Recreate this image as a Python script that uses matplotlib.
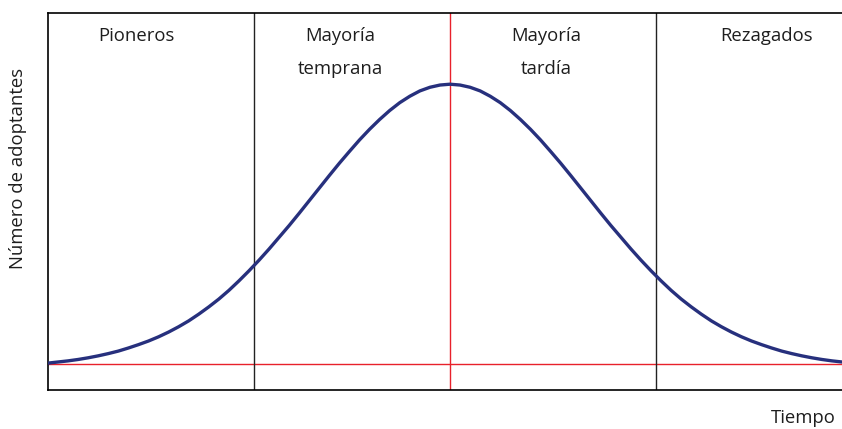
import numpy as np
import matplotlib
matplotlib.use("Agg")
import matplotlib.pyplot as plt

plt.rcParams['font.family'] = ['Open Sans', 'DejaVu Sans']

# tiempo (unidades arbitrarias, media en 0)
tiempo = [round(-4.0 + 0.1 * i, 1) for i in range(80)]
# numero de adoptantes (pico = 100)
adoptantes = [0.3, 0.7, 1.1, 1.6, 2.2, 2.9, 3.7, 4.6, 5.7, 6.9,
              8.2, 9.7, 11.4, 13.3, 15.4, 17.8, 20.4, 23.2, 26.3, 29.7,
              33.3, 37.1, 41.1, 45.3, 49.5, 53.9, 58.4, 62.9, 67.4, 71.8,
              76.0, 80.1, 83.9, 87.4, 90.6, 93.4, 95.7, 97.6, 98.9, 99.7,
              100.0,
              99.7, 98.9, 97.6, 95.7, 93.4, 90.6, 87.4, 83.9, 80.1, 76.0,
              71.8, 67.4, 62.9, 58.4, 53.9, 49.5, 45.3, 41.1, 37.1, 33.3,
              29.7, 26.3, 23.2, 20.4, 17.8, 15.4, 13.3, 11.4, 9.7, 8.2,
              6.9, 5.7, 4.6, 3.7, 2.9, 2.2, 1.6, 1.1, 0.7]

cortes = [-1.95, 2.05]
media = 0.0
grupos = ["Pioneros", "Mayoría\ntemprana", "Mayoría\ntardía", "Rezagados"]
grupos_x = [-3.12, -1.09, 0.96, 3.15]

fig = plt.figure(figsize=(8.42, 4.29), dpi=100)
ax = fig.add_axes([0.057, 0.091, 0.943, 0.879])

ax.axhline(0, color='#e8212b', lw=1.0, zorder=1)
ax.axvline(media, color='#e8212b', lw=1.0, zorder=1)
for c in cortes:
    ax.axvline(c, color='#222222', lw=1.0, zorder=1)

ax.plot(tiempo, adoptantes, color='#27307d', lw=2.4, zorder=3,
        solid_capstyle='round')

for g, gx in zip(grupos, grupos_x):
    ax.text(gx, 120.3, g, ha='center', va='top', fontsize=13.3,
            color='#1e1e1e', linespacing=2.05)

ax.set_xlim(-4.0, 3.9)
ax.set_ylim(-9.3, 125.5)
ax.set_xticks([])
ax.set_yticks([])
ax.spines['right'].set_visible(False)
for s in ['left', 'top', 'bottom']:
    ax.spines[s].set_linewidth(1.2)

fig.text(0.021, 0.607, "Número de adoptantes", rotation=90, ha='center',
         va='center', fontsize=13.3, color='#1e1e1e')
fig.text(0.993, 0.014, "Tiempo", ha='right', va='baseline', fontsize=13.3,
         color='#1e1e1e')

fig.savefig("out.png", dpi=100)
